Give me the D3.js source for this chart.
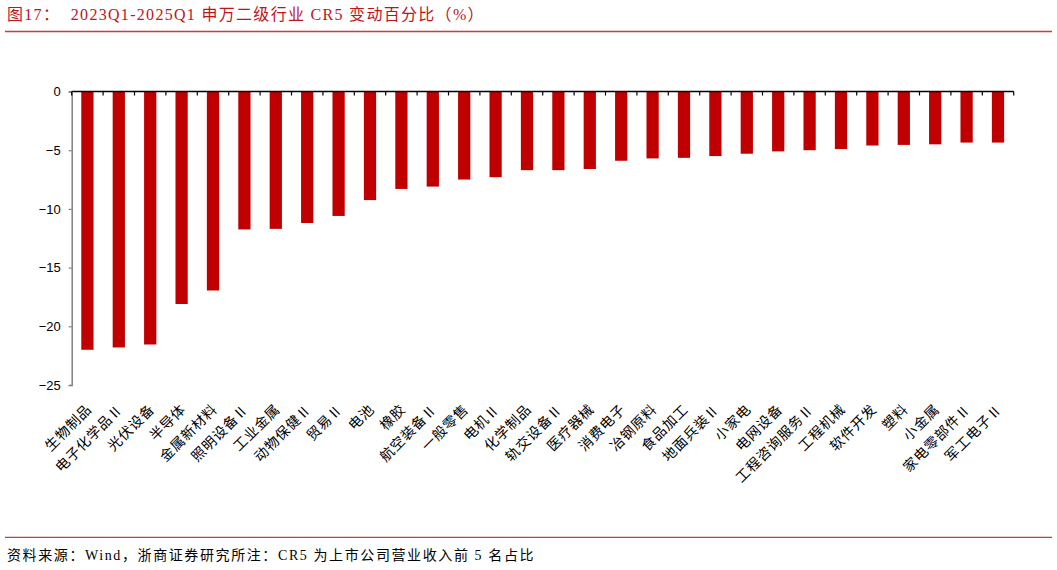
<!DOCTYPE html>
<html><head><meta charset="utf-8">
<script src="https://cdn.jsdelivr.net/npm/d3@7/dist/d3.min.js"></script>
<style>
html,body{margin:0;padding:0;background:#fff;}
svg{display:block;}
</style></head>
<body>
<svg id="chart" width="1057" height="570"></svg>
<script>
const categories = ["生物制品","电子化学品Ⅱ","光伏设备","半导体","金属新材料","照明设备Ⅱ","工业金属","动物保健Ⅱ","贸易Ⅱ","电池","橡胶","航空装备Ⅱ","一般零售","电机Ⅱ","化学制品","轨交设备Ⅱ","医疗器械","消费电子","冶钢原料","食品加工","地面兵装Ⅱ","小家电","电网设备","工程咨询服务Ⅱ","工程机械","软件开发","塑料","小金属","家电零部件Ⅱ","军工电子Ⅱ"];
const values = [-22.0,-21.8,-21.55,-18.1,-16.95,-11.75,-11.7,-11.2,-10.6,-9.25,-8.3,-8.1,-7.5,-7.3,-6.7,-6.7,-6.6,-5.9,-5.7,-5.65,-5.5,-5.3,-5.1,-5.0,-4.9,-4.6,-4.55,-4.5,-4.35,-4.35];
const yTicks = [0,-5,-10,-15,-20,-25];
const titleText = "图17：  2023Q1-2025Q1 申万二级行业 CR5 变动百分比（%）";
const sourceText = "资料来源：Wind，浙商证券研究所注：CR5 为上市公司营业收入前 5 名占比";

const svg = d3.select("#chart");
const FONT = "'Liberation Serif','Noto Sans CJK SC',serif";
const LABEL_FONT = "'Liberation Serif','Noto Sans CJK SC',serif";

const x = d3.scaleBand().domain(categories).range([71.7, 1013.7]).paddingInner(0.61).paddingOuter(0.305);
const y = d3.scaleLinear().domain([-25, 0]).range([385, 91.5]);

// title
svg.append("text").attr("x", 7).attr("y", 20).attr("font-family", FONT).attr("font-size", 16)
  .attr("letter-spacing", 1.3)
  .attr("fill", "#C0141B").style("white-space","pre").text(titleText);
svg.append("line").attr("x1", 5).attr("x2", 1052).attr("y1", 31.5).attr("y2", 31.5)
  .attr("stroke", "#D0383E").attr("stroke-width", 1.3);

// bars
svg.append("g").selectAll("rect").data(categories).join("rect")
  .attr("x", d => x(d)).attr("width", x.bandwidth())
  .attr("y", y(0)).attr("height", (d, i) => y(values[i]) - y(0))
  .attr("fill", "#C00000");

// y axis
const yAxis = svg.append("g").attr("transform", `translate(${x.range()[0]},0)`)
  .call(d3.axisLeft(y).tickValues(yTicks).tickSize(3).tickPadding(8).tickFormat(d3.format("d")));
yAxis.select(".domain").attr("stroke", "#808080").attr("stroke-width", 1.5);
yAxis.selectAll(".tick line").attr("stroke", "#808080").attr("stroke-width", 1.2);
yAxis.selectAll(".tick text").attr("font-family", "'Liberation Sans',Arial,sans-serif").attr("font-size", 13).attr("fill", "#000");

// x axis line at zero
const x0 = x.range()[0], x1 = x.range()[1];
const gx = svg.append("g");
gx.append("line").attr("x1", x0).attr("x2", x1).attr("y1", y(0)).attr("y2", y(0)).attr("stroke", "#000").attr("stroke-width", 1.3);
const bounds = categories.map(c => x(c) - (x.step() - x.bandwidth()) / 2).concat([x1]);
gx.selectAll("line.tk").data(bounds).join("line").attr("class", "tk")
  .attr("x1", d => d).attr("x2", d => d).attr("y1", y(0)).attr("y2", y(0) + 4)
  .attr("stroke", "#000").attr("stroke-width", 1.2);

// category labels
svg.append("g").selectAll("text").data(categories).join("text")
  .attr("transform", d => `translate(${x(d) + x.bandwidth() / 2 + 2},${407}) rotate(-45)`)
  .attr("text-anchor", "end").attr("dominant-baseline", "central")
  .attr("font-family", LABEL_FONT).attr("font-size", 14).attr("letter-spacing", 0.8).attr("fill", "#000")
  .text(d => d);

// footer
svg.append("line").attr("x1", 5).attr("x2", 1052).attr("y1", 537.3).attr("y2", 537.3)
  .attr("stroke", "#D0383E").attr("stroke-width", 1.3);
svg.append("text").attr("x", 7).attr("y", 560).attr("font-family", FONT).attr("font-size", 14)
  .attr("letter-spacing", 1.6)
  .attr("fill", "#000").text(sourceText);
</script>
</body></html>
